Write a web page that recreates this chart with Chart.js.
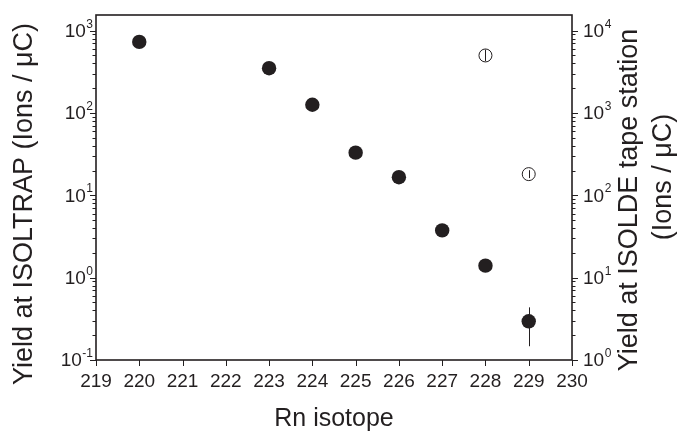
<!DOCTYPE html>
<html><head><meta charset="utf-8">
<script src="https://cdn.jsdelivr.net/npm/chart.js@4"></script>
<style>html,body{margin:0;padding:0;background:#fff}</style>
</head><body>
<canvas id="c" width="682" height="438"></canvas>
<script>
// ---- data ----
const isotopes = [220, 223, 224, 225, 226, 227, 228, 229];
const yieldIsoltrap = [730, 350, 126, 33, 16.6, 3.75, 1.4, 0.295];
const isoltrapErrLow = [null, null, null, null, null, null, null, 0.147];
const isoltrapErrHigh = [null, null, null, null, null, null, null, 0.436];
const tapeIsotopes = [228, 229];
const yieldTape = [5000, 181];
const tapeErrLow = [4250, 162];
const tapeErrHigh = [5900, 202];
const xTickValues = [219, 220, 221, 222, 223, 224, 225, 226, 227, 228, 229, 230];
const leftTickValues = [0.1, 1, 10, 100, 1000];
const leftTickExp = ['-1', '0', '1', '2', '3'];
const rightTickValues = [1, 10, 100, 1000, 10000];
const rightTickExp = ['0', '1', '2', '3', '4'];
const xTitle = 'Rn isotope';
const leftTitle = 'Yield at ISOLTRAP (Ions / \u03BCC)';
const rightTitle = ['Yield at ISOLDE tape station', '(Ions / \u03BCC)'];

const INK = '#231f20';
const FONT = '"Liberation Sans", Arial, sans-serif';

function logTicks(decades, max) {
  const out = [];
  decades.forEach(d => { for (let k = 1; k <= 9; k++) { const v = d * k; if (v <= max * 1.0001) out.push({value: v}); } });
  return out;
}
function isMajor(v) { const l = Math.log10(v); return Math.abs(l - Math.round(l)) < 1e-9; }

function rotText(ctx, txt, x, y) {
  ctx.save(); ctx.translate(x, y); ctx.rotate(-Math.PI / 2); ctx.fillText(txt, 0, 0); ctx.restore();
}

const decor = {
  id: 'decor',
  afterDatasetsDraw(chart) {
    const {ctx} = chart;
    const sets = [
      {xs: isotopes, lo: isoltrapErrLow, hi: isoltrapErrHigh, axis: 'y'},
      {xs: tapeIsotopes, lo: tapeErrLow, hi: tapeErrHigh, axis: 'y2'}
    ];
    ctx.save();
    ctx.strokeStyle = INK; ctx.lineWidth = 1;
    sets.forEach(s => {
      const ys = chart.scales[s.axis], xs = chart.scales.x;
      s.xs.forEach((x, i) => {
        if (s.lo[i] == null) return;
        const px = Math.round(xs.getPixelForValue(x)) + 0.5;
        ctx.beginPath();
        ctx.moveTo(px, ys.getPixelForValue(s.lo[i]));
        ctx.lineTo(px, ys.getPixelForValue(s.hi[i]));
        ctx.stroke();
      });
    });
    ctx.restore();
  },
  afterDraw(chart) {
    const {ctx, chartArea: a, scales} = chart;
    ctx.save();
    ctx.strokeStyle = INK; ctx.fillStyle = INK;
    ctx.lineWidth = 1;
    // y ticks
    [['y', -1, a.left], ['y2', 1, a.right]].forEach(([id, dir, x0]) => {
      const s = scales[id];
      s.ticks.forEach(t => {
        const y = Math.round(s.getPixelForValue(t.value)) + 0.5;
        const len = isMajor(t.value) ? 6 : 3.5;
        ctx.beginPath(); ctx.moveTo(x0, y); ctx.lineTo(x0 + dir * len, y); ctx.stroke();
      });
    });
    // x ticks
    const sx = scales.x;
    sx.ticks.forEach(t => {
      const x = Math.round(sx.getPixelForValue(t.value)) + 0.5;
      ctx.beginPath(); ctx.moveTo(x, a.bottom); ctx.lineTo(x, a.bottom + 6); ctx.stroke();
    });
    // frame
    ctx.lineWidth = 1.6;
    ctx.strokeRect(a.left, a.top, a.right - a.left, a.bottom - a.top);
    // y tick labels with superscripts
    const big = '19px ' + FONT, small = '12px ' + FONT;
    leftTickValues.forEach((v, i) => {
      const y = scales.y.getPixelForValue(v);
      ctx.font = small; const we = ctx.measureText(leftTickExp[i]).width;
      const xr = a.left - 3;
      ctx.textAlign = 'right'; ctx.font = big; ctx.textBaseline = 'middle';
      ctx.fillText('10', xr - we - 0.5, y + 1);
      ctx.textAlign = 'left'; ctx.font = small; ctx.textBaseline = 'alphabetic';
      ctx.fillText(leftTickExp[i], xr - we, y - 3);
    });
    rightTickValues.forEach((v, i) => {
      const y = scales.y2.getPixelForValue(v);
      const xl = a.right + 11;
      ctx.textAlign = 'left'; ctx.font = big; ctx.textBaseline = 'middle';
      ctx.fillText('10', xl, y + 1);
      const w = ctx.measureText('10').width;
      ctx.font = small; ctx.textBaseline = 'alphabetic';
      ctx.fillText(rightTickExp[i], xl + w + 0.5, y - 3);
    });
    // axis titles (rotated, reading bottom-to-top)
    ctx.font = '27px ' + FONT; ctx.textAlign = 'center'; ctx.textBaseline = 'middle';
    rotText(ctx, leftTitle, 25, 204);
    rotText(ctx, rightTitle[0], 630, 200);
    rotText(ctx, rightTitle[1], 664, 177);
    ctx.restore();
  }
};

new Chart(document.getElementById('c'), {
  type: 'scatter',
  data: {
    datasets: [
      {
        label: 'ISOLTRAP',
        data: isotopes.map((x, i) => ({x, y: yieldIsoltrap[i]})),
        yAxisID: 'y',
        pointRadius: 7.2, pointHoverRadius: 7.2,
        backgroundColor: INK, borderColor: INK, borderWidth: 0
      },
      {
        label: 'ISOLDE tape station',
        data: tapeIsotopes.map((x, i) => ({x, y: yieldTape[i]})),
        yAxisID: 'y2',
        pointRadius: 6.5, pointHoverRadius: 6.5,
        backgroundColor: 'rgba(0,0,0,0)', borderColor: INK, borderWidth: 1
      }
    ]
  },
  options: {
    responsive: false,
    devicePixelRatio: 1,
    animation: false,
    layout: {padding: {top: 15, left: 0, right: 0, bottom: 0}},
    plugins: {legend: {display: false}, tooltip: {enabled: false}},
    scales: {
      x: {
        type: 'linear', min: 219, max: 230,
        afterFit(s) { s.height = 78; },
        afterBuildTicks(s) { s.ticks = xTickValues.map(v => ({value: v})); },
        grid: {display: false}, border: {display: false},
        ticks: {autoSkip: false, maxRotation: 0, padding: 2, color: INK, font: {family: FONT, size: 19},
                callback: v => String(v)},
        title: {display: true, text: xTitle, color: INK, font: {family: FONT, size: 25}, padding: {top: 0, bottom: 4}}
      },
      y: {
        type: 'logarithmic', position: 'left', min: 0.1, max: 1550,
        afterFit(s) { s.width = 96; },
        afterBuildTicks(s) { s.ticks = logTicks(leftTickValues, 1550); },
        grid: {display: false}, border: {display: false},
        ticks: {display: false}
      },
      y2: {
        type: 'logarithmic', position: 'right', min: 1, max: 15500,
        afterFit(s) { s.width = 110; },
        afterBuildTicks(s) { s.ticks = logTicks(rightTickValues, 15500); },
        grid: {display: false}, border: {display: false},
        ticks: {display: false}
      }
    }
  },
  plugins: [decor]
});
</script>
</body></html>
